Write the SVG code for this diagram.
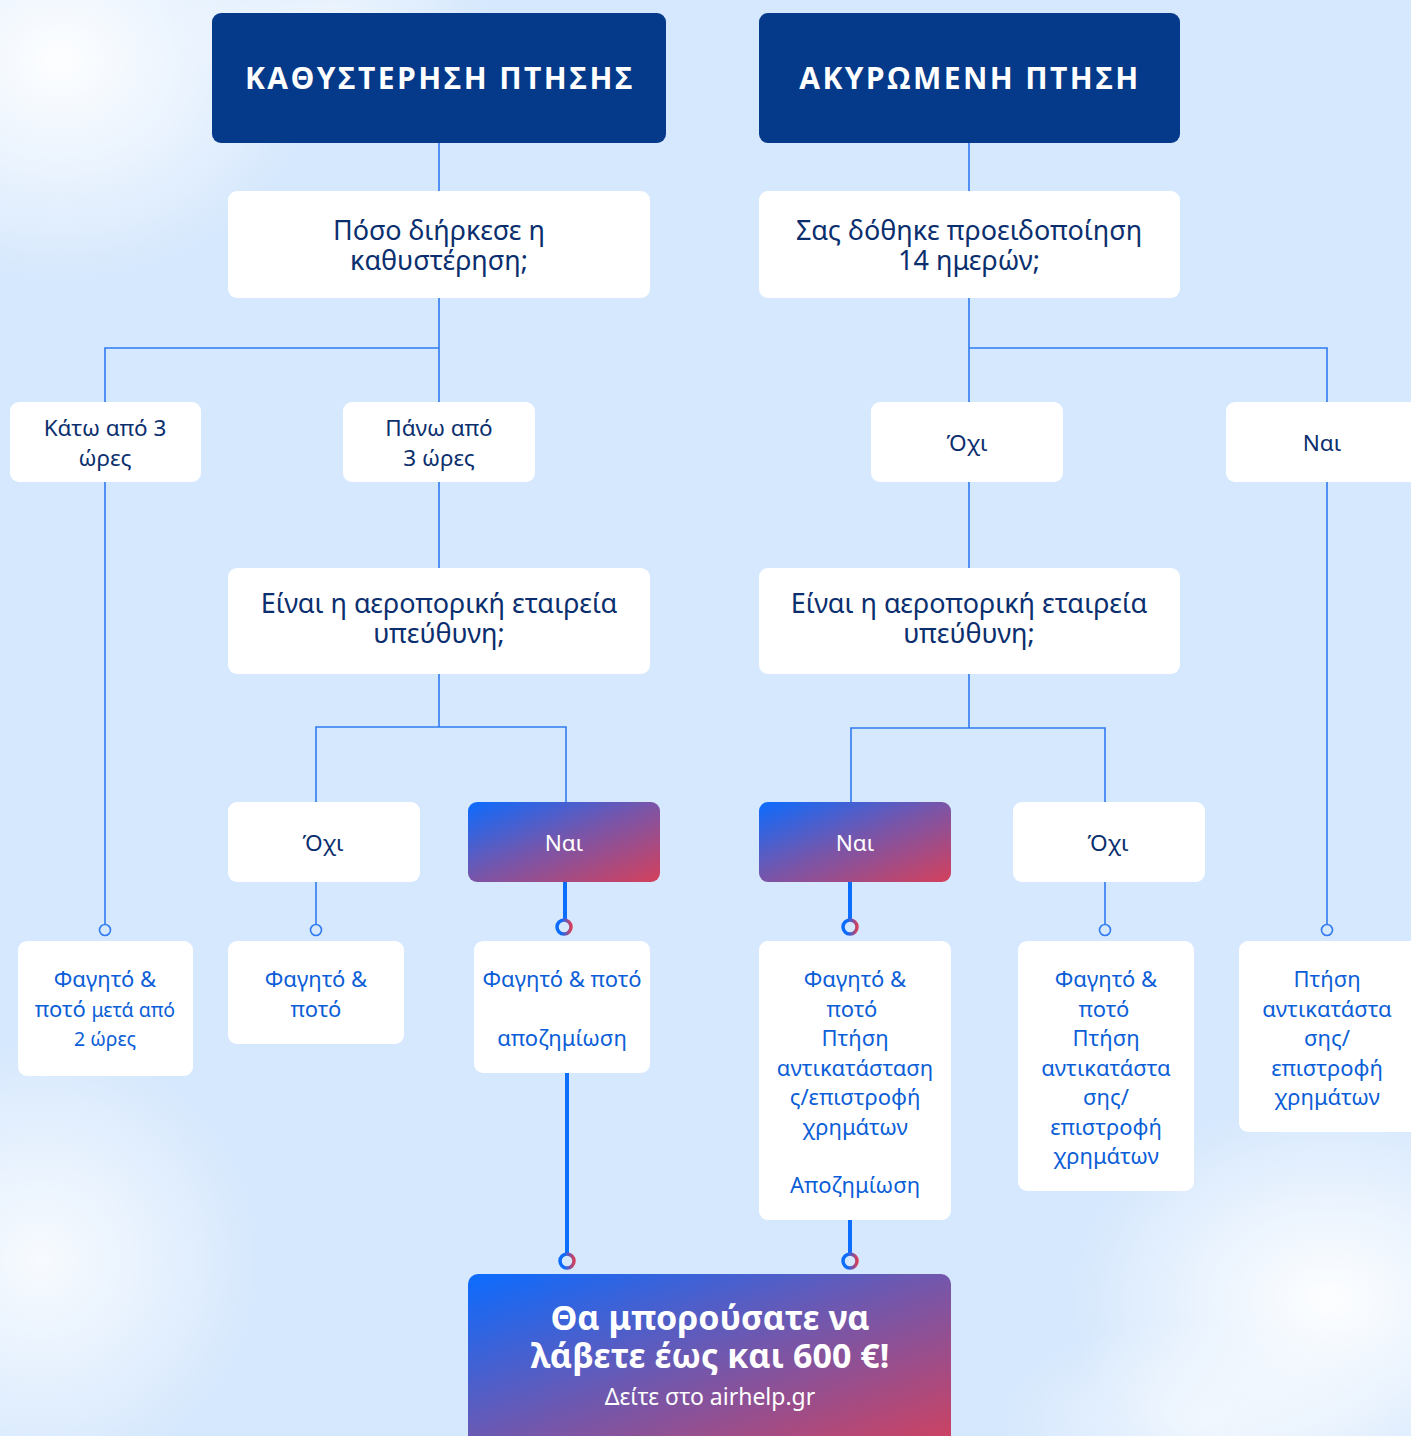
<svg xmlns="http://www.w3.org/2000/svg" width="1411" height="1436" viewBox="0 0 1411 1436">
<style>
.hdr{fill:#043A89}
.hdrt{fill:#fff;font-family:"Open Sans","Noto Sans",sans-serif;font-weight:700;font-size:30px;letter-spacing:2.4px;text-anchor:middle}
.box{fill:#fff}
.q{fill:#0B2F6E;font-family:"Noto Sans","Open Sans",sans-serif;font-size:27px;text-anchor:middle}
.a{fill:#0B2F6E;font-family:"Noto Sans","Open Sans",sans-serif;font-size:22.5px;text-anchor:middle}
.aw{fill:#fff;font-family:"Noto Sans","Open Sans",sans-serif;font-size:22.5px;text-anchor:middle}
.r{fill:#0B5ED7;font-family:"Noto Sans","Open Sans",sans-serif;font-size:22px;text-anchor:middle}
.ln{fill:none;stroke:#2F7BEF;stroke-width:1.6}
.th{fill:none;stroke:#0D6EFD;stroke-width:4}
.dot{fill:#D6E8FD;stroke:#2F7BEF;stroke-width:1.6}
.gdot{fill:#D6E8FD;stroke:url(#gd);stroke-width:3.5}
.ctat{fill:#fff;font-family:"Noto Sans","Open Sans",sans-serif;font-weight:700;font-size:34px;text-anchor:middle}
.ctas{fill:#fff;font-family:"Noto Sans","Open Sans",sans-serif;font-size:23px;text-anchor:middle}
</style>
<defs>
<linearGradient id="g" x1="0" y1="0" x2="1" y2="1">
<stop offset="0" stop-color="#0B6CFF"/>
<stop offset="0.5" stop-color="#7A55A8"/>
<stop offset="1" stop-color="#D4405B"/>
</linearGradient>
<linearGradient id="gc" x1="0" y1="0" x2="1" y2="1">
<stop offset="0" stop-color="#0B6CFF"/>
<stop offset="0.5" stop-color="#7357AC"/>
<stop offset="1" stop-color="#D4405B"/>
</linearGradient>
<linearGradient id="gd" x1="0" y1="0" x2="1" y2="0">
<stop offset="0.3" stop-color="#0B6CFF"/>
<stop offset="1" stop-color="#D4405B"/>
</linearGradient>
<radialGradient id="cloud">
<stop offset="0" stop-color="#fff" stop-opacity="0.95"/>
<stop offset="0.5" stop-color="#fff" stop-opacity="0.5"/>
<stop offset="1" stop-color="#fff" stop-opacity="0"/>
</radialGradient>
</defs>
<rect width="1411" height="1436" fill="#D6E8FD"/>
<g id="clouds">
<ellipse cx="60" cy="60" rx="260" ry="220" fill="url(#cloud)"/>
<ellipse cx="330" cy="20" rx="160" ry="90" fill="url(#cloud)" opacity="0.6"/>
<ellipse cx="40" cy="1260" rx="220" ry="220" fill="url(#cloud)" opacity="0.85"/>
<ellipse cx="1330" cy="1300" rx="260" ry="200" fill="url(#cloud)"/>
<ellipse cx="1200" cy="1420" rx="200" ry="100" fill="url(#cloud)" opacity="0.6"/>
</g>
<g id="connectors">
<path class="ln" d="M439 143V191M969 143V191"/>
<path class="ln" d="M439 298V402M105 402V348H439M105 482V925"/>
<path class="ln" d="M969 298V402M969 348H1327V402M1327 482V925"/>
<path class="ln" d="M439 482V568M969 482V568"/>
<path class="ln" d="M439 674V727M316 802V727H566V802M316 882V925"/>
<path class="ln" d="M969 674V728M851 802V728H1105V802M1105 882V925"/>
<path class="th" d="M565 882V920M850 882V920M567 1073V1254M850 1220V1254"/>
<circle class="dot" cx="105" cy="930" r="5.5"/>
<circle class="dot" cx="316" cy="930" r="5.5"/>
<circle class="dot" cx="1105" cy="930" r="5.5"/>
<circle class="dot" cx="1327" cy="930" r="5.5"/>
<circle class="gdot" cx="564" cy="927" r="7"/>
<circle class="gdot" cx="850" cy="927" r="7"/>
<circle class="gdot" cx="567" cy="1261" r="7"/>
<circle class="gdot" cx="850" cy="1261" r="7"/>
</g>
<g id="n-delay">
<rect class="hdr" x="212" y="13" width="454" height="130" rx="9"/>
<text class="hdrt" x="440" y="89">ΚΑΘΥΣΤΕΡΗΣΗ ΠΤΗΣΗΣ</text>
</g>
<g id="n-cancel">
<rect class="hdr" x="759" y="13" width="421" height="130" rx="9"/>
<text class="hdrt" x="970" y="89">ΑΚΥΡΩΜΕΝΗ ΠΤΗΣΗ</text>
</g>
<g id="n-q1">
<rect class="box" x="228" y="191" width="422" height="107" rx="9"/>
<text class="q" x="439" y="240">Πόσο διήρκεσε η<tspan x="439" dy="30">καθυστέρηση;</tspan></text>
</g>
<g id="n-q2">
<rect class="box" x="759" y="191" width="421" height="107" rx="9"/>
<text class="q" x="969" y="240">Σας δόθηκε προειδοποίηση<tspan x="969" dy="30">14 ημερών;</tspan></text>
</g>
<g id="n-under3">
<rect class="box" x="10" y="402" width="191" height="80" rx="9"/>
<text class="a" x="105" y="436">Κάτω από 3<tspan x="105" dy="30">ώρες</tspan></text>
</g>
<g id="n-over3">
<rect class="box" x="343" y="402" width="192" height="80" rx="9"/>
<text class="a" x="439" y="436">Πάνω από<tspan x="439" dy="30">3 ώρες</tspan></text>
</g>
<g id="n-no14">
<rect class="box" x="871" y="402" width="192" height="80" rx="9"/>
<text class="a" x="967" y="451">Όχι</text>
</g>
<g id="n-yes14">
<rect class="box" x="1226" y="402" width="200" height="80" rx="9"/>
<text class="a" x="1322" y="451">Ναι</text>
</g>
<g id="n-resp1">
<rect class="box" x="228" y="568" width="422" height="106" rx="9"/>
<text class="q" x="439" y="613">Είναι η αεροπορική εταιρεία<tspan x="439" dy="30">υπεύθυνη;</tspan></text>
</g>
<g id="n-resp2">
<rect class="box" x="759" y="568" width="421" height="106" rx="9"/>
<text class="q" x="969" y="613">Είναι η αεροπορική εταιρεία<tspan x="969" dy="30">υπεύθυνη;</tspan></text>
</g>
<g id="n-no1">
<rect class="box" x="228" y="802" width="192" height="80" rx="9"/>
<text class="a" x="323" y="851">Όχι</text>
</g>
<g id="n-yes1">
<rect x="468" y="802" width="192" height="80" rx="9" fill="url(#g)"/>
<text class="aw" x="564" y="851">Ναι</text>
</g>
<g id="n-yes2">
<rect x="759" y="802" width="192" height="80" rx="9" fill="url(#g)"/>
<text class="aw" x="855" y="851">Ναι</text>
</g>
<g id="n-no2">
<rect class="box" x="1013" y="802" width="192" height="80" rx="9"/>
<text class="a" x="1108" y="851">Όχι</text>
</g>
<g id="r1">
<rect class="box" x="18" y="941" width="175" height="135" rx="9"/>
<text class="r" x="105" y="987">Φαγητό &amp;<tspan x="105" dy="30">ποτό <tspan font-size="19.5">μετά από</tspan></tspan><tspan x="105" dy="29" font-size="19.5">2 ώρες</tspan></text>
</g>
<g id="r2">
<rect class="box" x="228" y="941" width="176" height="103" rx="9"/>
<text class="r" x="316" y="987">Φαγητό &amp;<tspan x="316" dy="30">ποτό</tspan></text>
</g>
<g id="r3">
<rect class="box" x="474" y="941" width="176" height="132" rx="9"/>
<text class="r" x="562" y="987">Φαγητό &amp; ποτό<tspan x="562" dy="59">αποζημίωση</tspan></text>
</g>
<g id="r4">
<rect class="box" x="759" y="941" width="192" height="279" rx="9"/>
<text class="r" x="855" y="987">Φαγητό &amp;<tspan x="852" dy="29.5">ποτό</tspan><tspan x="855" dy="29.5">Πτήση</tspan><tspan x="855" dy="29.5">αντικατάσταση</tspan><tspan x="855" dy="29.5">ς/επιστροφή</tspan><tspan x="855" dy="29.5">χρημάτων</tspan><tspan x="855" dy="58.5">Αποζημίωση</tspan></text>
</g>
<g id="r5">
<rect class="box" x="1018" y="941" width="176" height="250" rx="9"/>
<text class="r" x="1106" y="987">Φαγητό &amp;<tspan x="1104" dy="29.5">ποτό</tspan><tspan x="1106" dy="29.5">Πτήση</tspan><tspan x="1106" dy="29.5">αντικατάστα</tspan><tspan x="1106" dy="29.5">σης/</tspan><tspan x="1106" dy="29.5">επιστροφή</tspan><tspan x="1106" dy="29.5">χρημάτων</tspan></text>
</g>
<g id="r6">
<rect class="box" x="1239" y="941" width="190" height="191" rx="9"/>
<text class="r" x="1327" y="987">Πτήση<tspan x="1327" dy="29.5">αντικατάστα</tspan><tspan x="1327" dy="29.5">σης/</tspan><tspan x="1327" dy="29.5">επιστροφή</tspan><tspan x="1327" dy="29.5">χρημάτων</tspan></text>
</g>
<g id="cta">
<rect x="468" y="1274" width="483" height="180" rx="10" fill="url(#gc)"/>
<text class="ctat" x="710" y="1330">Θα μπορούσατε να<tspan x="710" dy="38">λάβετε έως και 600 €!</tspan></text>
<text class="ctas" x="710" y="1405">Δείτε στο airhelp.gr</text>
</g>
</svg>
